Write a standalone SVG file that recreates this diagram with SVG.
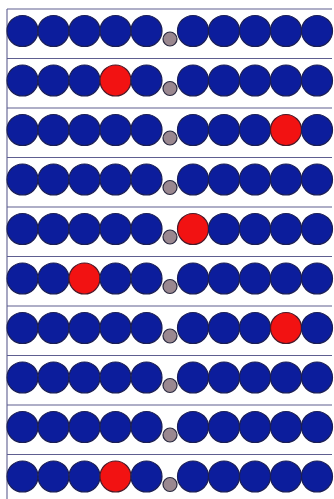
<svg xmlns="http://www.w3.org/2000/svg" xmlns:xlink="http://www.w3.org/1999/xlink" width="334" height="499" viewBox="0 0 334 499">
<style>
.b{fill:#0c1d9c;stroke:#1b1f55;stroke-width:1.2}
.r{fill:#f21212;stroke:#4a1a28;stroke-width:1.2}
.g{fill:#9a8890;stroke:#2a2a40;stroke-width:1.2}
.ln{stroke:#5e5e90;stroke-width:1.1;fill:none}
</style>
<rect width="334" height="499" fill="#ffffff"/>
<g id="frame">
<line class="ln" x1="7" y1="9" x2="7" y2="499"/>
<line class="ln" x1="7" y1="9" x2="332" y2="9"/>
<line class="ln" x1="7" y1="58.5" x2="332" y2="58.5"/>
<line class="ln" x1="7" y1="108" x2="332" y2="108"/>
<line class="ln" x1="7" y1="157.5" x2="332" y2="157.5"/>
<line class="ln" x1="7" y1="207" x2="332" y2="207"/>
<line class="ln" x1="7" y1="256.5" x2="332" y2="256.5"/>
<line class="ln" x1="7" y1="306" x2="332" y2="306"/>
<line class="ln" x1="7" y1="355.5" x2="332" y2="355.5"/>
<line class="ln" x1="7" y1="405" x2="332" y2="405"/>
<line class="ln" x1="7" y1="454.5" x2="332" y2="454.5"/>
</g>
<g id="row1" transform="translate(0,0)">
<circle class="b" cx="22.5" cy="31" r="15.5"/><circle class="b" cx="53.5" cy="31" r="15.5"/><circle class="b" cx="84.5" cy="31" r="15.5"/><circle class="b" cx="115.5" cy="31" r="15.5"/><circle class="b" cx="146.5" cy="31" r="15.5"/>
<circle class="g" cx="170" cy="39" r="7"/>
<circle class="b" cx="193" cy="31" r="15.5"/><circle class="b" cx="224" cy="31" r="15.5"/><circle class="b" cx="255" cy="31" r="15.5"/><circle class="b" cx="286" cy="31" r="15.5"/><circle class="b" cx="317" cy="31" r="15.5"/>
</g>
<g id="row2" transform="translate(0,49.5)">
<circle class="b" cx="22.5" cy="31" r="15.5"/><circle class="b" cx="53.5" cy="31" r="15.5"/><circle class="b" cx="84.5" cy="31" r="15.5"/><circle class="r" cx="115.5" cy="31" r="15.5"/><circle class="b" cx="146.5" cy="31" r="15.5"/>
<circle class="g" cx="170" cy="39" r="7"/>
<circle class="b" cx="193" cy="31" r="15.5"/><circle class="b" cx="224" cy="31" r="15.5"/><circle class="b" cx="255" cy="31" r="15.5"/><circle class="b" cx="286" cy="31" r="15.5"/><circle class="b" cx="317" cy="31" r="15.5"/>
</g>
<g id="row3" transform="translate(0,99)">
<circle class="b" cx="22.5" cy="31" r="15.5"/><circle class="b" cx="53.5" cy="31" r="15.5"/><circle class="b" cx="84.5" cy="31" r="15.5"/><circle class="b" cx="115.5" cy="31" r="15.5"/><circle class="b" cx="146.5" cy="31" r="15.5"/>
<circle class="g" cx="170" cy="39" r="7"/>
<circle class="b" cx="193" cy="31" r="15.5"/><circle class="b" cx="224" cy="31" r="15.5"/><circle class="b" cx="255" cy="31" r="15.5"/><circle class="r" cx="286" cy="31" r="15.5"/><circle class="b" cx="317" cy="31" r="15.5"/>
</g>
<g id="row4" transform="translate(0,148.5)">
<circle class="b" cx="22.5" cy="31" r="15.5"/><circle class="b" cx="53.5" cy="31" r="15.5"/><circle class="b" cx="84.5" cy="31" r="15.5"/><circle class="b" cx="115.5" cy="31" r="15.5"/><circle class="b" cx="146.5" cy="31" r="15.5"/>
<circle class="g" cx="170" cy="39" r="7"/>
<circle class="b" cx="193" cy="31" r="15.5"/><circle class="b" cx="224" cy="31" r="15.5"/><circle class="b" cx="255" cy="31" r="15.5"/><circle class="b" cx="286" cy="31" r="15.5"/><circle class="b" cx="317" cy="31" r="15.5"/>
</g>
<g id="row5" transform="translate(0,198)">
<circle class="b" cx="22.5" cy="31" r="15.5"/><circle class="b" cx="53.5" cy="31" r="15.5"/><circle class="b" cx="84.5" cy="31" r="15.5"/><circle class="b" cx="115.5" cy="31" r="15.5"/><circle class="b" cx="146.5" cy="31" r="15.5"/>
<circle class="g" cx="170" cy="39" r="7"/>
<circle class="r" cx="193" cy="31" r="15.5"/><circle class="b" cx="224" cy="31" r="15.5"/><circle class="b" cx="255" cy="31" r="15.5"/><circle class="b" cx="286" cy="31" r="15.5"/><circle class="b" cx="317" cy="31" r="15.5"/>
</g>
<g id="row6" transform="translate(0,247.5)">
<circle class="b" cx="22.5" cy="31" r="15.5"/><circle class="b" cx="53.5" cy="31" r="15.5"/><circle class="r" cx="84.5" cy="31" r="15.5"/><circle class="b" cx="115.5" cy="31" r="15.5"/><circle class="b" cx="146.5" cy="31" r="15.5"/>
<circle class="g" cx="170" cy="39" r="7"/>
<circle class="b" cx="193" cy="31" r="15.5"/><circle class="b" cx="224" cy="31" r="15.5"/><circle class="b" cx="255" cy="31" r="15.5"/><circle class="b" cx="286" cy="31" r="15.5"/><circle class="b" cx="317" cy="31" r="15.5"/>
</g>
<g id="row7" transform="translate(0,297)">
<circle class="b" cx="22.5" cy="31" r="15.5"/><circle class="b" cx="53.5" cy="31" r="15.5"/><circle class="b" cx="84.5" cy="31" r="15.5"/><circle class="b" cx="115.5" cy="31" r="15.5"/><circle class="b" cx="146.5" cy="31" r="15.5"/>
<circle class="g" cx="170" cy="39" r="7"/>
<circle class="b" cx="193" cy="31" r="15.5"/><circle class="b" cx="224" cy="31" r="15.5"/><circle class="b" cx="255" cy="31" r="15.5"/><circle class="r" cx="286" cy="31" r="15.5"/><circle class="b" cx="317" cy="31" r="15.5"/>
</g>
<g id="row8" transform="translate(0,346.5)">
<circle class="b" cx="22.5" cy="31" r="15.5"/><circle class="b" cx="53.5" cy="31" r="15.5"/><circle class="b" cx="84.5" cy="31" r="15.5"/><circle class="b" cx="115.5" cy="31" r="15.5"/><circle class="b" cx="146.5" cy="31" r="15.5"/>
<circle class="g" cx="170" cy="39" r="7"/>
<circle class="b" cx="193" cy="31" r="15.5"/><circle class="b" cx="224" cy="31" r="15.5"/><circle class="b" cx="255" cy="31" r="15.5"/><circle class="b" cx="286" cy="31" r="15.5"/><circle class="b" cx="317" cy="31" r="15.5"/>
</g>
<g id="row9" transform="translate(0,396)">
<circle class="b" cx="22.5" cy="31" r="15.5"/><circle class="b" cx="53.5" cy="31" r="15.5"/><circle class="b" cx="84.5" cy="31" r="15.5"/><circle class="b" cx="115.5" cy="31" r="15.5"/><circle class="b" cx="146.5" cy="31" r="15.5"/>
<circle class="g" cx="170" cy="39" r="7"/>
<circle class="b" cx="193" cy="31" r="15.5"/><circle class="b" cx="224" cy="31" r="15.5"/><circle class="b" cx="255" cy="31" r="15.5"/><circle class="b" cx="286" cy="31" r="15.5"/><circle class="b" cx="317" cy="31" r="15.5"/>
</g>
<g id="row10" transform="translate(0,445.5)">
<circle class="b" cx="22.5" cy="31" r="15.5"/><circle class="b" cx="53.5" cy="31" r="15.5"/><circle class="b" cx="84.5" cy="31" r="15.5"/><circle class="r" cx="115.5" cy="31" r="15.5"/><circle class="b" cx="146.5" cy="31" r="15.5"/>
<circle class="g" cx="170" cy="39" r="7"/>
<circle class="b" cx="193" cy="31" r="15.5"/><circle class="b" cx="224" cy="31" r="15.5"/><circle class="b" cx="255" cy="31" r="15.5"/><circle class="b" cx="286" cy="31" r="15.5"/><circle class="b" cx="317" cy="31" r="15.5"/>
</g>
</svg>
